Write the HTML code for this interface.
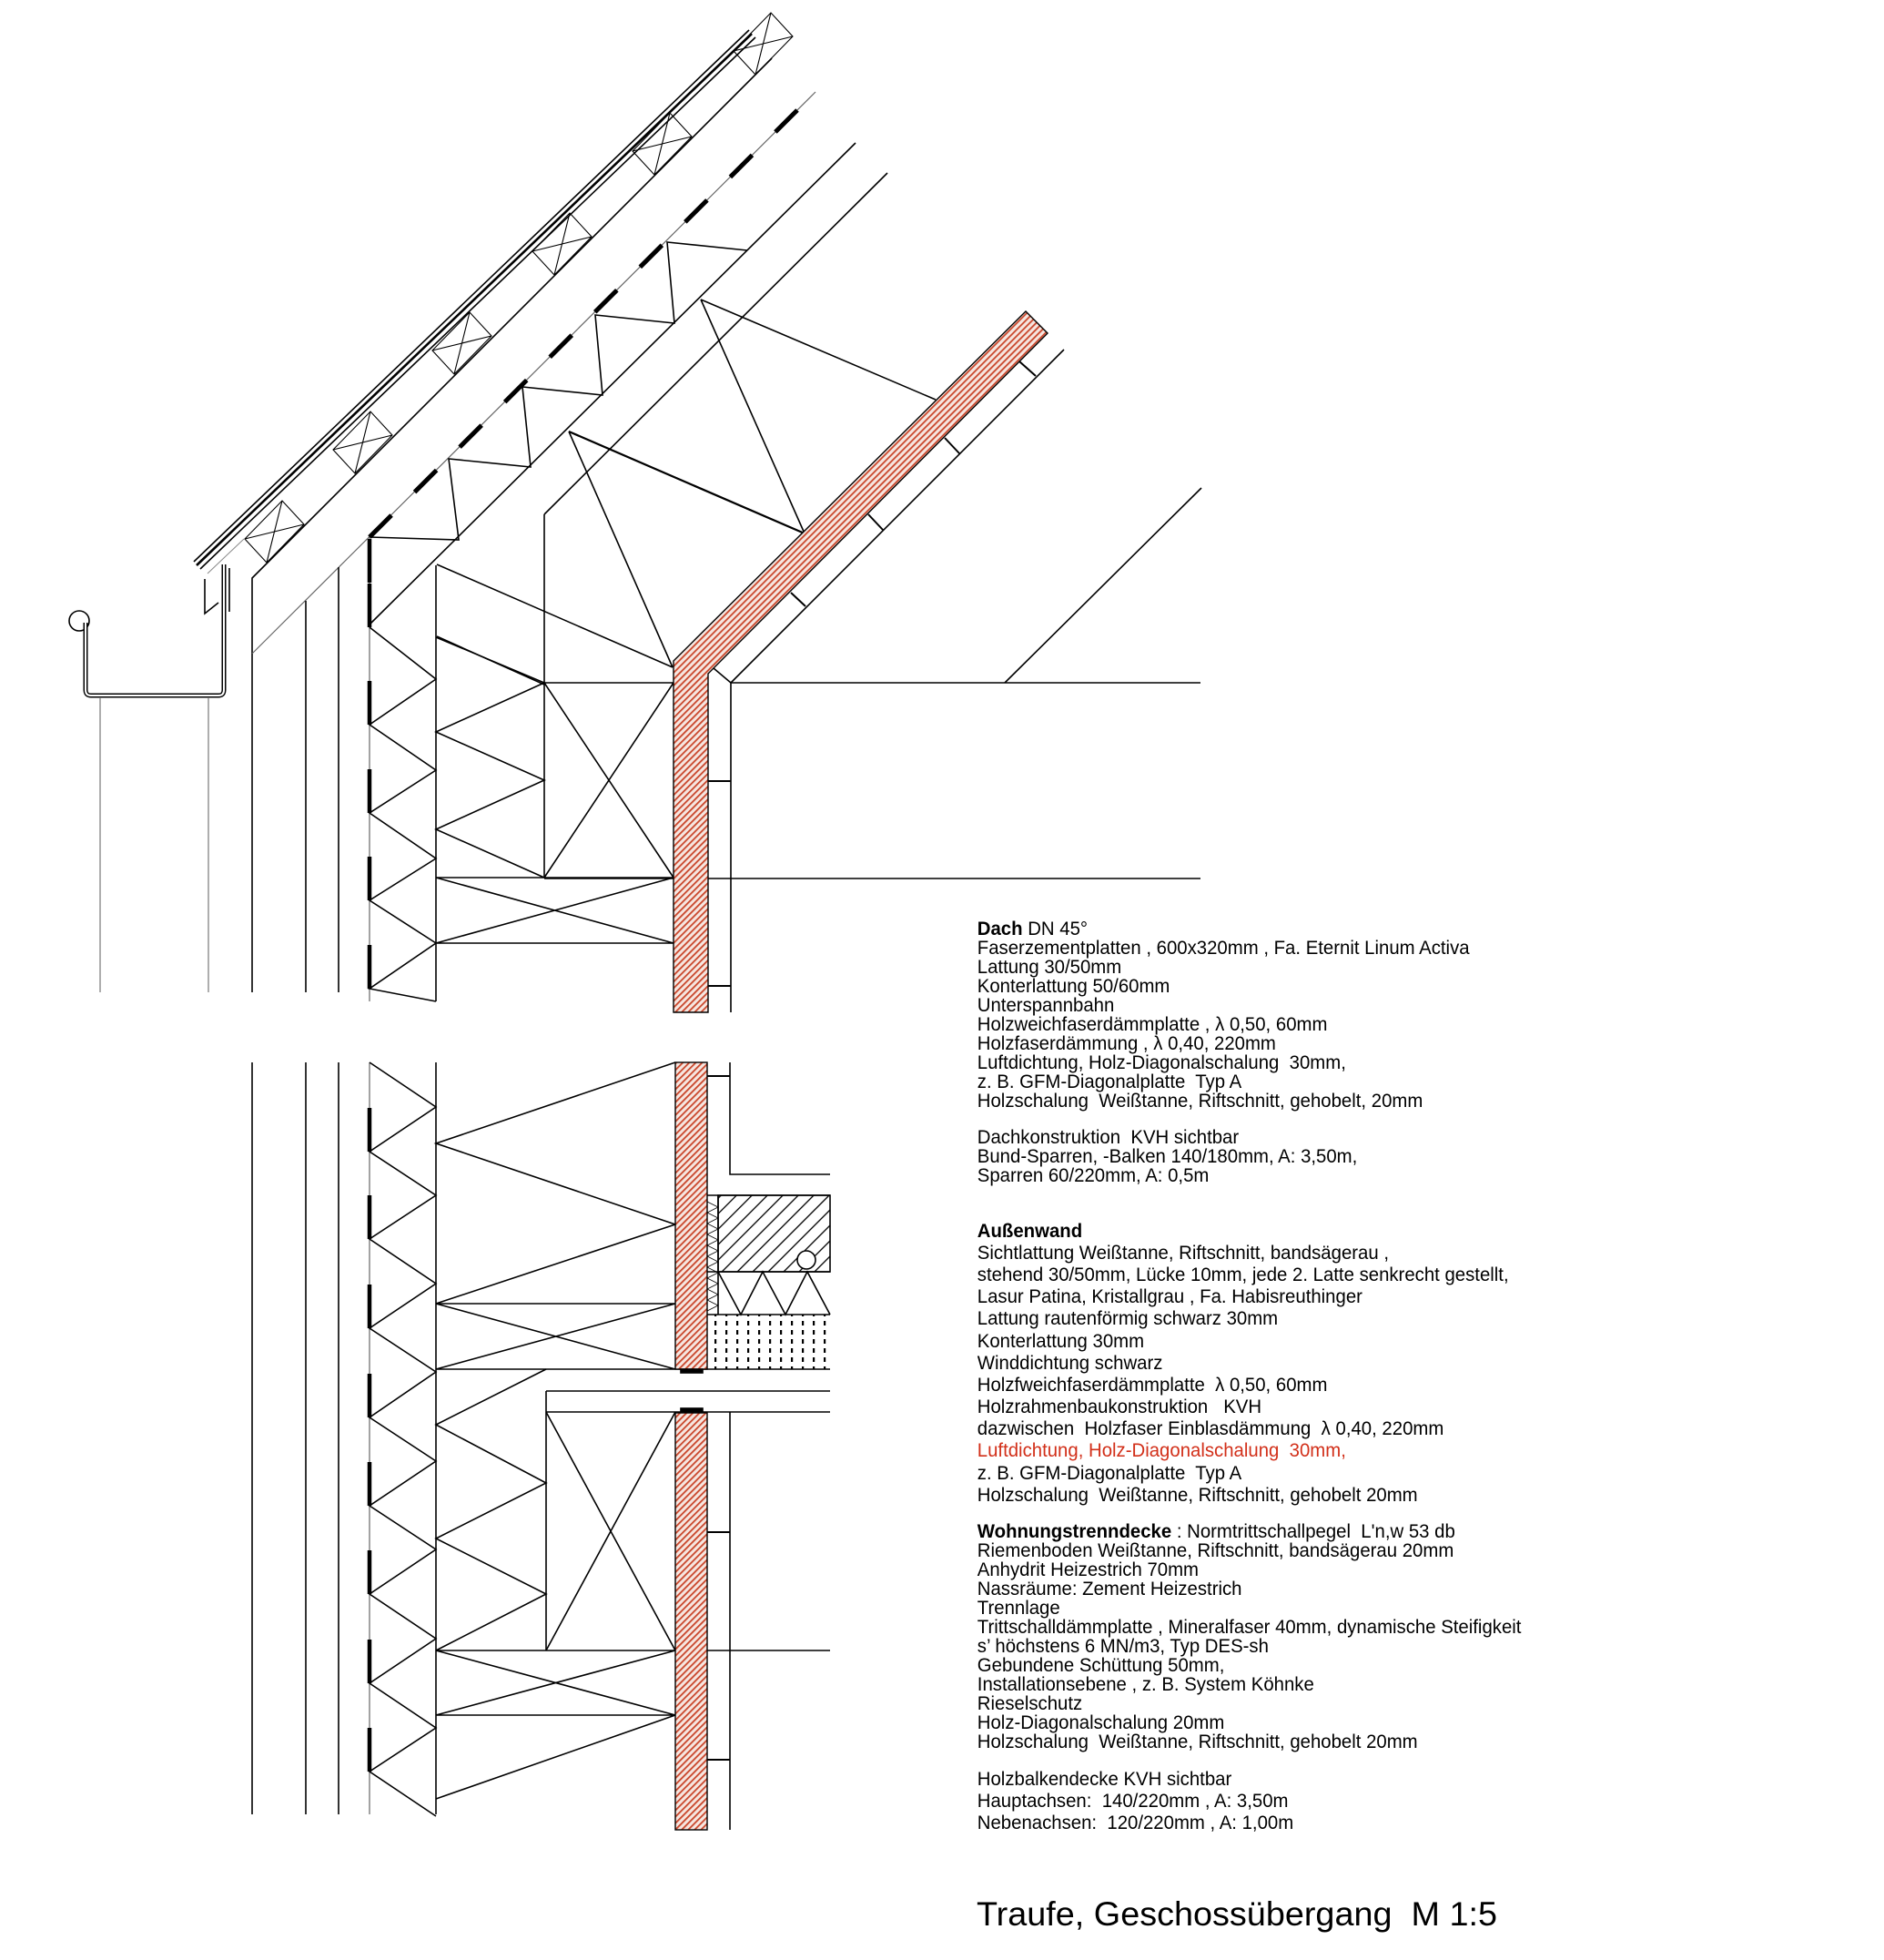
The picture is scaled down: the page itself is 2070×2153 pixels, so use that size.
<!DOCTYPE html>
<html><head><meta charset="utf-8"><style>html,body{margin:0;padding:0;background:#fff}svg{display:block}text{white-space:pre}</style></head>
<body>
<svg width="2070" height="2153" viewBox="0 0 2070 2153" xmlns="http://www.w3.org/2000/svg" xml:space="preserve">
<defs>
<pattern id="red" patternUnits="userSpaceOnUse" width="5" height="5" patternTransform="rotate(45)">
<rect width="5" height="5" fill="#f6e6e0"/><rect width="1.8" height="5" fill="#c9452a"/></pattern>
<pattern id="hat" patternUnits="userSpaceOnUse" width="12" height="12" patternTransform="rotate(45)">
<rect width="1.3" height="12" fill="#000"/></pattern>
<pattern id="dot" patternUnits="userSpaceOnUse" width="12" height="10">
<rect x="5" y="1" width="2.2" height="5" fill="#000"/></pattern>
</defs>
<g fill="none" stroke="#000" stroke-width="1.6">
<circle cx="87" cy="682" r="11"/>
<path d="M94,684 V758 q0,6 6,6 H240 q6,0 6,-6 V620" stroke-width="5"/>
<path d="M94,684 V758 q0,6 6,6 H240 q6,0 6,-6 V620" stroke="#fff" stroke-width="2"/>
<path d="M225,636 V674 L240,662 M252,624 V672"/>
<line x1="110" y1="766" x2="110" y2="1090" stroke="#777" stroke-width="1.2"/>
<line x1="229" y1="766" x2="229" y2="1090" stroke="#777" stroke-width="1.2"/>
<line x1="213" y1="617" x2="823" y2="33"/>
<line x1="216" y1="621" x2="826" y2="37" stroke-width="2.6"/>
<line x1="220" y1="625" x2="830" y2="41"/>
<line x1="228" y1="630" x2="268" y2="592" stroke="#888" stroke-width="1"/>
<g stroke-width="1.1">
<path d="M269,592 l41,-42 l24,26 l-41,42 z M269,592 l65,-16 M310,550 l-17,68"/>
<path d="M366,494 l41,-42 l24,26 l-41,42 z M366,494 l65,-16 M407,452 l-17,68"/>
<path d="M475,385 l41,-42 l24,26 l-41,42 z M475,385 l65,-16 M516,343 l-17,68"/>
<path d="M585,276 l41,-42 l24,26 l-41,42 z M585,276 l65,-16 M626,234 l-17,68"/>
<path d="M695,166 l41,-42 l24,26 l-41,42 z M695,166 l65,-16 M736,124 l-17,68"/>
<path d="M806,56 l41,-42 l24,26 l-41,42 z M806,56 l65,-16 M847,14 l-17,68"/>
</g>
<path d="M277,718 V635 L848,64"/>
<line x1="277" y1="718" x2="896" y2="101" stroke-width="1.2" stroke="#666"/>
<line x1="406" y1="590" x2="896" y2="101" stroke-width="5" stroke-dasharray="34 36"/>
<path d="M406,590 L504,593 L493,504 L583,513 L574,425 L662,434 L654,346 L741,355 L733,266 L821,275"/>
<line x1="406" y1="686" x2="940" y2="157"/>
<line x1="598" y1="964" x2="598" y2="565"/>
<line x1="598" y1="565" x2="975" y2="190"/>
<path d="M625,474 L884,586 M770,329 L884,586 M770,329 L1028,439 M625,474 L739,733 M480,620 L739,733 M480,699 L598,752"/>
<line x1="625" y1="474" x2="884" y2="586" stroke-width="2.2"/>
<line x1="277" y1="718" x2="277" y2="1090"/>
<line x1="336" y1="660" x2="336" y2="1090"/>
<line x1="372" y1="623" x2="372" y2="1090"/>
<line x1="406" y1="590" x2="406" y2="1100" stroke="#666" stroke-width="1.2"/>
<line x1="479" y1="621" x2="479" y2="1100"/>
<path d="M406,689 L479,746 L406,796 L479,846 L406,893 L479,943 L406,989 L479,1036 L406,1086 L479,1100"/>
<path d="M406,592 V640 M406,641 V689 M406,748 V796 M406,845 V893 M406,941 V989 M406,1038 V1086" stroke-width="4.5"/>
<path d="M479,700 L598,750 L479,804 L598,857 L479,911 L598,964"/>
<path d="M598,750 H740 M598,750 L740,964 M740,750 L598,964"/>
<path d="M479,964 H740 M479,1036 H740 M479,964 L740,1036 M479,1036 L740,964"/>
<path d="M803,1112 V750 L1169,384"/>
<line x1="784" y1="734" x2="803" y2="750"/>
<path d="M1120,397 l18,16 M1038,481 l16,17 M954,565 l16,17 M869,651 l16,15" stroke-width="2"/>
<path d="M778,858 H803 M778,1083 H803" stroke-width="2"/>
<line x1="803" y1="750" x2="1319" y2="750"/>
<line x1="598" y1="965" x2="1319" y2="965"/>
<line x1="1104" y1="750" x2="1320" y2="536"/>
<path d="M740,1112 V726 L1127,342 L1151,366 L778,740 V1112 Z" fill="url(#red)" stroke-width="1.4"/>
<line x1="277" y1="1167" x2="277" y2="1993"/>
<line x1="336" y1="1167" x2="336" y2="1993"/>
<line x1="372" y1="1167" x2="372" y2="1993"/>
<line x1="406" y1="1167" x2="406" y2="1993" stroke="#666" stroke-width="1.2"/>
<line x1="479" y1="1167" x2="479" y2="1993"/>
<path d="M406,1167 L479,1216 L406,1265 L479,1313 L406,1361 L479,1410 L406,1459 L479,1507 L406,1557 L479,1605 L406,1654 L479,1702 L406,1751 L479,1800 L406,1849 L479,1898 L406,1946 L479,1995"/>
<path d="M406,1217 V1265 M406,1313 V1361 M406,1411 V1459 M406,1509 V1557 M406,1606 V1654 M406,1703 V1751 M406,1801 V1849 M406,1898 V1946" stroke-width="4.5"/>
<path d="M742,1167 L479,1256 L742,1345 L479,1432"/>
<path d="M479,1432 H742 M479,1504 H912 M479,1432 L742,1504 M479,1504 L742,1432"/>
<path d="M600,1528 H912 M600,1551 H912 M600,1528 V1813"/>
<path d="M600,1504 L479,1565 L600,1629 L479,1690 L600,1751 L479,1813"/>
<path d="M600,1551 L742,1813 M742,1551 L600,1813"/>
<path d="M479,1813 H912 M479,1884 H742 M479,1813 L742,1884 M479,1884 L742,1813 M479,1976 L742,1884"/>
<path d="M802,1167 V1290 H912 M802,1551 V2010"/>
<path d="M777,1182 H802 M777,1683 H802 M777,1933 H802" stroke-width="2"/>
<rect x="789" y="1313" width="123" height="84" fill="url(#hat)"/>
<path d="M777,1313 H912 M789,1313 V1444 M777,1397 H912 M777,1444 H912"/>
<path d="M777,1320 l12,6 l-12,6 l12,6 l-12,6 l12,6 l-12,6 l12,6 l-12,6 l12,6 l-12,6 l12,6 l-12,6 l12,6 l-12,6 l12,6 l-12,6 l12,6 l-12,6 l12,6 l-12,6" stroke-width="0.8"/>
<circle cx="886" cy="1384" r="10" fill="#fff"/>
<path d="M789,1397 L814,1444 L838,1397 L863,1444 L887,1397 L912,1444"/>
<rect x="777" y="1444" width="135" height="60" fill="url(#dot)" stroke="none"/>
<rect x="742" y="1167" width="35" height="337" fill="url(#red)" stroke-width="1.4"/>
<rect x="742" y="1552" width="35" height="458" fill="url(#red)" stroke-width="1.4"/>
<rect x="748" y="1504" width="24" height="4" fill="#000"/>
<rect x="748" y="1547" width="24" height="4" fill="#000"/>
</g>
<g font-family="'Liberation Sans', sans-serif" font-size="21" fill="#000" transform="scale(0.97,1)">
<g transform="translate(1107,-4)">
<text y="1031"><tspan font-weight="bold">Dach</tspan> DN 45°</text>
<text y="1052">Faserzementplatten , 600x320mm , Fa. Eternit Linum Activa</text>
<text y="1073">Lattung 30/50mm</text>
<text y="1094">Konterlattung 50/60mm</text>
<text y="1115">Unterspannbahn</text>
<text y="1136">Holzweichfaserdämmplatte , λ 0,50, 60mm</text>
<text y="1157">Holzfaserdämmung , λ 0,40, 220mm</text>
<text y="1178">Luftdichtung, Holz-Diagonalschalung  30mm,</text>
<text y="1199">z. B. GFM-Diagonalplatte  Typ A</text>
<text y="1220">Holzschalung  Weißtanne, Riftschnitt, gehobelt, 20mm</text>
<text y="1260">Dachkonstruktion  KVH sichtbar</text>
<text y="1281">Bund-Sparren, -Balken 140/180mm, A: 3,50m,</text>
<text y="1302">Sparren 60/220mm, A: 0,5m</text>
<text y="1363" font-weight="bold">Außenwand</text>
<text y="1387">Sichtlattung Weißtanne, Riftschnitt, bandsägerau ,</text>
<text y="1411">stehend 30/50mm, Lücke 10mm, jede 2. Latte senkrecht gestellt,</text>
<text y="1435">Lasur Patina, Kristallgrau , Fa. Habisreuthinger</text>
<text y="1459">Lattung rautenförmig schwarz 30mm</text>
<text y="1484">Konterlattung 30mm</text>
<text y="1508">Winddichtung schwarz</text>
<text y="1532">Holzfweichfaserdämmplatte  λ 0,50, 60mm</text>
<text y="1556">Holzrahmenbaukonstruktion   KVH</text>
<text y="1580">dazwischen  Holzfaser Einblasdämmung  λ 0,40, 220mm</text>
<text y="1604" fill="#d2301a">Luftdichtung, Holz-Diagonalschalung  30mm,</text>
<text y="1629">z. B. GFM-Diagonalplatte  Typ A</text>
<text y="1653">Holzschalung  Weißtanne, Riftschnitt, gehobelt 20mm</text>
<text y="1693"><tspan font-weight="bold">Wohnungstrenndecke</tspan> : Normtrittschallpegel  L'n,w 53 db</text>
<text y="1714">Riemenboden Weißtanne, Riftschnitt, bandsägerau 20mm</text>
<text y="1735">Anhydrit Heizestrich 70mm</text>
<text y="1756">Nassräume: Zement Heizestrich</text>
<text y="1777">Trennlage</text>
<text y="1798">Trittschalldämmplatte , Mineralfaser 40mm, dynamische Steifigkeit</text>
<text y="1819">s’ höchstens 6 MN/m3, Typ DES-sh</text>
<text y="1840">Gebundene Schüttung 50mm,</text>
<text y="1861">Installationsebene , z. B. System Köhnke</text>
<text y="1882">Rieselschutz</text>
<text y="1903">Holz-Diagonalschalung 20mm</text>
<text y="1924">Holzschalung  Weißtanne, Riftschnitt, gehobelt 20mm</text>
<text y="1965">Holzbalkendecke KVH sichtbar</text>
<text y="1989">Hauptachsen:  140/220mm , A: 3,50m</text>
<text y="2013">Nebenachsen:  120/220mm , A: 1,00m</text>
</g></g>
<text x="1073" y="2115" font-family="'Liberation Sans', sans-serif" font-size="37" textLength="572" lengthAdjust="spacingAndGlyphs">Traufe, Geschossübergang  M 1:5</text>
</svg>
</body></html>
